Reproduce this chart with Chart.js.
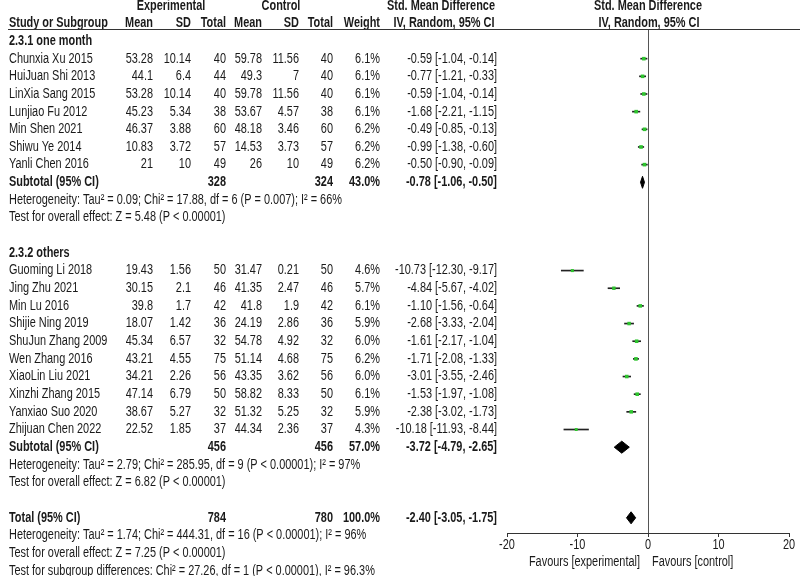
<!DOCTYPE html>
<html>
<head>
<meta charset="utf-8">
<script src="https://cdn.jsdelivr.net/npm/chart.js@4.4.0/dist/chart.umd.min.js"></script>
<style>
html, body { margin: 0; padding: 0; background: #fff; }
canvas { display: block; }
</style>
</head>
<body>
<canvas id="forest" width="800" height="576"></canvas>
<script>
// study level data, in the order of the table
const studyNames = ['Chunxia Xu 2015', 'HuiJuan Shi 2013', 'LinXia Sang 2015', 'Lunjiao Fu 2012', 'Min Shen 2021', 'Shiwu Ye 2014', 'Yanli Chen 2016',
  'Guoming Li 2018', 'Jing Zhu 2021', 'Min Lu 2016', 'Shijie Ning 2019', 'ShuJun Zhang 2009', 'Wen Zhang 2016', 'XiaoLin Liu 2021', 'Xinzhi Zhang 2015', 'Yanxiao Suo 2020', 'Zhijuan Chen 2022'];
const studyGroup = [0, 0, 0, 0, 0, 0, 0, 1, 1, 1, 1, 1, 1, 1, 1, 1, 1];
const expMean = [53.28, 44.1, 53.28, 45.23, 46.37, 10.83, 21, 19.43, 30.15, 39.8, 18.07, 45.34, 43.21, 34.21, 47.14, 38.67, 22.52];
const expSD = [10.14, 6.4, 10.14, 5.34, 3.88, 3.72, 10, 1.56, 2.1, 1.7, 1.42, 6.57, 4.55, 2.26, 6.79, 5.27, 1.85];
const expN = [40, 44, 40, 38, 60, 57, 49, 50, 46, 42, 36, 32, 75, 56, 50, 32, 37];
const ctlMean = [59.78, 49.3, 59.78, 53.67, 48.18, 14.53, 26, 31.47, 41.35, 41.8, 24.19, 54.78, 51.14, 43.35, 58.82, 51.32, 44.34];
const ctlSD = [11.56, 7, 11.56, 4.57, 3.46, 3.73, 10, 0.21, 2.47, 1.9, 2.86, 4.92, 4.68, 3.62, 8.33, 5.25, 2.36];
const ctlN = [40, 40, 40, 38, 60, 57, 49, 50, 46, 42, 36, 32, 75, 56, 50, 32, 37];
const weights = [6.1, 6.1, 6.1, 6.1, 6.2, 6.2, 6.2, 4.6, 5.7, 6.1, 5.9, 6.0, 6.2, 6.0, 6.1, 5.9, 4.3];
const smd = [-0.59, -0.77, -0.59, -1.68, -0.49, -0.99, -0.50, -10.73, -4.84, -1.10, -2.68, -1.61, -1.71, -3.01, -1.53, -2.38, -10.18];
const ciLow = [-1.04, -1.21, -1.04, -2.21, -0.85, -1.38, -0.90, -12.30, -5.67, -1.56, -3.33, -2.17, -2.08, -3.55, -1.97, -3.02, -11.93];
const ciHigh = [-0.14, -0.33, -0.14, -1.15, -0.13, -0.60, -0.09, -9.17, -4.02, -0.64, -2.04, -1.04, -1.33, -2.46, -1.08, -1.73, -8.44];

// subgroup and overall summaries
const groupTitles = ['2.3.1 one month', '2.3.2 others'];
const groupExpN = [328, 456];
const groupCtlN = [324, 456];
const groupWeight = [43.0, 57.0];
const groupEst = [-0.78, -3.72];
const groupLow = [-1.06, -4.79];
const groupHigh = [-0.50, -2.65];
const groupHet = ['Heterogeneity: Tau\u00b2 = 0.09; Chi\u00b2 = 17.88, df = 6 (P = 0.007); I\u00b2 = 66%',
  'Heterogeneity: Tau\u00b2 = 2.79; Chi\u00b2 = 285.95, df = 9 (P < 0.00001); I\u00b2 = 97%'];
const groupTest = ['Test for overall effect: Z = 5.48 (P < 0.00001)', 'Test for overall effect: Z = 6.82 (P < 0.00001)'];

const totalExpN = 784;
const totalCtlN = 780;
const totalEst = -2.40, totalLow = -3.05, totalHigh = -1.75;
const totalNotes = ['Heterogeneity: Tau\u00b2 = 1.74; Chi\u00b2 = 444.31, df = 16 (P < 0.00001); I\u00b2 = 96%',
  'Test for overall effect: Z = 7.25 (P < 0.00001)',
  'Test for subgroup differences: Chi\u00b2 = 27.26, df = 1 (P < 0.00001), I\u00b2 = 96.3%'];

const xTicks = [-20, -10, 0, 10, 20];
const favourLeft = 'Favours [experimental]';
const favourRight = 'Favours [control]';

// row numbers in the table
const studyRow = [];
const groupTitleRow = [], groupSubRow = [];
let r = 0;
groupTitles.forEach((t, g) => {
  groupTitleRow.push(r++);
  studyGroup.forEach((sg, i) => { if (sg === g) studyRow[i] = r++; });
  groupSubRow.push(r);
  r += 4;
});
const totalRow = r;

const FONT = '"Liberation Sans", Arial, sans-serif';
const SX = 0.78;
const INK = '#1a1a1a';

function txt(ctx, s, x, y, align, bold) {
  ctx.save();
  ctx.font = (bold ? 'bold ' : '') + '14px ' + FONT;
  ctx.fillStyle = INK;
  ctx.textAlign = align;
  ctx.textBaseline = 'middle';
  ctx.translate(x, y);
  ctx.scale(SX, 1);
  ctx.fillText(s, 0, 0);
  ctx.restore();
}

const ci = (e, l, h) => e.toFixed(2) + ' [' + l.toFixed(2) + ', ' + h.toFixed(2) + ']';

function diamond(e, l, h, row) {
  return {
    type: 'line',
    data: [{x: l, y: row}, {x: e, y: row - 0.34}, {x: h, y: row}, {x: e, y: row + 0.34}, {x: l, y: row}],
    borderColor: '#000',
    backgroundColor: '#000',
    borderWidth: 1,
    pointRadius: 0,
    tension: 0,
    fill: 'shape'
  };
}

const tablePlugin = {
  id: 'table',
  afterDraw(chart) {
    const ctx = chart.ctx;
    const ys = chart.scales.y, xs = chart.scales.x;
    const Y = k => ys.getPixelForValue(k);
    const cols = {em: 153, esd: 191, en: 226, cm: 262, csd: 299, cn: 333, w: 380, ci: 497};

    // header
    txt(ctx, 'Experimental', 171, Y(-2), 'center', true);
    txt(ctx, 'Control', 281, Y(-2), 'center', true);
    txt(ctx, 'Std. Mean Difference', 441, Y(-2), 'center', true);
    txt(ctx, 'Std. Mean Difference', 648, Y(-2), 'center', true);
    txt(ctx, 'Study or Subgroup', 9, Y(-1), 'left', true);
    txt(ctx, 'Mean', cols.em, Y(-1), 'right', true);
    txt(ctx, 'SD', cols.esd, Y(-1), 'right', true);
    txt(ctx, 'Total', cols.en, Y(-1), 'right', true);
    txt(ctx, 'Mean', cols.cm, Y(-1), 'right', true);
    txt(ctx, 'SD', cols.csd, Y(-1), 'right', true);
    txt(ctx, 'Total', cols.cn, Y(-1), 'right', true);
    txt(ctx, 'Weight', cols.w, Y(-1), 'right', true);
    txt(ctx, 'IV, Random, 95% CI', 444, Y(-1), 'center', true);
    txt(ctx, 'IV, Random, 95% CI', 649, Y(-1), 'center', true);

    ctx.save();
    ctx.strokeStyle = '#333';
    ctx.lineWidth = 1;
    ctx.beginPath();
    ctx.moveTo(8, chart.chartArea.top + 0.5);
    ctx.lineTo(800, chart.chartArea.top + 0.5);
    ctx.stroke();
    ctx.restore();

    // studies
    studyNames.forEach((n, i) => {
      const y = Y(studyRow[i]);
      txt(ctx, n, 9, y, 'left', false);
      txt(ctx, String(expMean[i]), cols.em, y, 'right', false);
      txt(ctx, String(expSD[i]), cols.esd, y, 'right', false);
      txt(ctx, String(expN[i]), cols.en, y, 'right', false);
      txt(ctx, String(ctlMean[i]), cols.cm, y, 'right', false);
      txt(ctx, String(ctlSD[i]), cols.csd, y, 'right', false);
      txt(ctx, String(ctlN[i]), cols.cn, y, 'right', false);
      txt(ctx, weights[i].toFixed(1) + '%', cols.w, y, 'right', false);
      txt(ctx, ci(smd[i], ciLow[i], ciHigh[i]), cols.ci, y, 'right', false);
    });

    // subgroups
    groupTitles.forEach((t, g) => {
      txt(ctx, t, 9, Y(groupTitleRow[g]), 'left', true);
      const y = Y(groupSubRow[g]);
      txt(ctx, 'Subtotal (95% CI)', 9, y, 'left', true);
      txt(ctx, String(groupExpN[g]), cols.en, y, 'right', true);
      txt(ctx, String(groupCtlN[g]), cols.cn, y, 'right', true);
      txt(ctx, groupWeight[g].toFixed(1) + '%', cols.w, y, 'right', true);
      txt(ctx, ci(groupEst[g], groupLow[g], groupHigh[g]), cols.ci, y, 'right', true);
      txt(ctx, groupHet[g], 9, Y(groupSubRow[g] + 1), 'left', false);
      txt(ctx, groupTest[g], 9, Y(groupSubRow[g] + 2), 'left', false);
    });

    // total
    const yt = Y(totalRow);
    txt(ctx, 'Total (95% CI)', 9, yt, 'left', true);
    txt(ctx, String(totalExpN), cols.en, yt, 'right', true);
    txt(ctx, String(totalCtlN), cols.cn, yt, 'right', true);
    txt(ctx, '100.0%', cols.w, yt, 'right', true);
    txt(ctx, ci(totalEst, totalLow, totalHigh), cols.ci, yt, 'right', true);
    totalNotes.forEach((s, j) => txt(ctx, s, 9, Y(totalRow + 1 + j), 'left', false));

    // x tick labels (condensed like the table text) and favours labels
    xs.ticks.forEach(t => txt(ctx, String(t.value), xs.getPixelForValue(t.value), xs.top + 12, 'center', false));
    const x0 = xs.getPixelForValue(0);
    const yf = xs.top + 29;
    txt(ctx, favourLeft, x0 - 8, yf, 'right', false);
    txt(ctx, favourRight, x0 + 4, yf, 'left', false);
  }
};

new Chart(document.getElementById('forest'), {
  type: 'scatter',
  data: {
    datasets: [
      {
        type: 'scatter',
        label: 'Std. Mean Difference',
        data: smd.map((v, i) => ({x: v, y: studyRow[i]})),
        pointStyle: 'rect',
        pointRadius: c => 1.0 + weights[c.dataIndex] * 0.25,
        backgroundColor: '#2ec42e',
        borderWidth: 0
      },
      {
        type: 'bar',
        label: '95% CI',
        indexAxis: 'y',
        data: ciLow.map((l, i) => ({x: [l, ciHigh[i]], y: studyRow[i]})),
        backgroundColor: '#222',
        barThickness: 1,
        borderWidth: 0
      },
      diamond(groupEst[0], groupLow[0], groupHigh[0], groupSubRow[0]),
      diamond(groupEst[1], groupLow[1], groupHigh[1], groupSubRow[1]),
      diamond(totalEst, totalLow, totalHigh, totalRow)
    ]
  },
  options: {
    responsive: false,
    animation: false,
    devicePixelRatio: 1,
    events: [],
    layout: {padding: {left: 507, right: 11, top: 29, bottom: 0}},
    plugins: {legend: {display: false}, tooltip: {enabled: false}},
    scales: {
      x: {
        type: 'linear',
        min: -20,
        max: 20,
        afterBuildTicks: s => { s.ticks = xTicks.map(v => ({value: v})); },
        afterFit: s => { s.height = 43; },
        ticks: {display: false},
        grid: {
          color: c => (c.tick && c.tick.value === 0 ? '#555' : 'rgba(0,0,0,0)'),
          tickColor: '#333',
          tickLength: 4
        },
        border: {display: true, color: '#333'}
      },
      y: {
        type: 'linear',
        display: false,
        reverse: true,
        offset: false,
        min: -0.68,
        max: 27.86,
        grid: {offset: false}
      }
    }
  },
  plugins: [tablePlugin]
});
</script>
</body>
</html>
